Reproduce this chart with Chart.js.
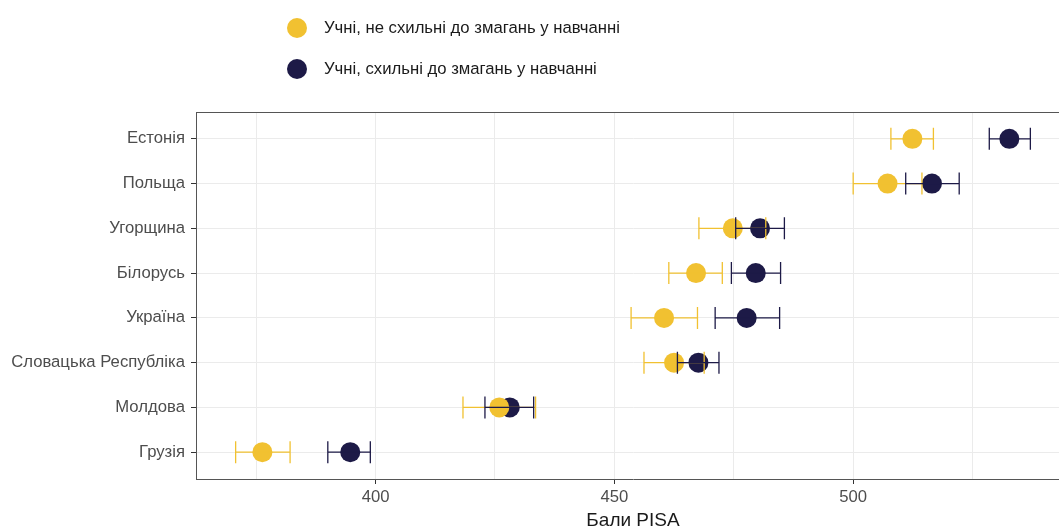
<!DOCTYPE html>
<html>
<head>
<meta charset="utf-8">
<script src="https://cdn.jsdelivr.net/npm/chart.js@4"></script>
<style>
  html, body { margin: 0; padding: 0; background: #fff; overflow: hidden; }
  #wrap { position: relative; width: 1059px; height: 527px; overflow: hidden; }
  #chart { display: block; width: 1070px; height: 527px; }
  .legend { position: absolute; left: 287px; top: 17px; font-family: "Liberation Sans", Arial, sans-serif; font-size: 16.7px; color: #1a1a1a; }
  .legend div { display: flex; align-items: center; height: 21px; margin-bottom: 20px; }
  .legend span.dot { display: inline-block; width: 20px; height: 20px; border-radius: 50%; margin-right: 17px; }
</style>
</head>
<body>
<div id="wrap">
  <canvas id="chart" width="1070" height="527"></canvas>
  <div class="legend" id="legend"></div>
</div>
<script>
// countries, top to bottom
const countries = ['Естонія', 'Польща', 'Угорщина', 'Білорусь', 'Україна', 'Словацька Республіка', 'Молдова', 'Грузія'];

// students not inclined to compete
const notCompMean = [512.4, 507.2, 474.8, 467.1, 460.4, 462.5, 425.9, 376.3];
const notCompLow  = [507.9, 500.0, 467.7, 461.4, 453.5, 456.2, 418.3, 370.7];
const notCompHigh = [516.8, 514.4, 481.7, 472.6, 467.4, 468.8, 433.5, 382.1];

// students inclined to compete
const compMean = [532.7, 516.5, 480.5, 479.6, 477.7, 467.6, 428.1, 394.7];
const compLow  = [528.5, 511.0, 475.4, 474.5, 471.1, 463.2, 422.9, 390.0];
const compHigh = [537.1, 522.2, 485.6, 484.8, 484.6, 471.9, 433.1, 398.9];

const xTicks = [375, 400, 425, 450, 475, 500, 525];
const xLabels = [400, 450, 500];

const yellow = '#F1C131';
const navy = '#1D1A47';

const seriesNames = ['Учні, не схильні до змагань у навчанні', 'Учні, схильні до змагань у навчанні'];

// html legend (stacked vertically)
const legendEl = document.getElementById('legend');
[yellow, navy].forEach((c, i) => {
    legendEl.innerHTML += `<div><span class="dot" style="background:${c}"></span>${seriesNames[i]}</div>`;
});

function toPoints(vals) {
    return vals.map((v, i) => ({ x: v, y: i + 1 }));
}

// error bars on top of the points
const errorBars = {
    id: 'errorBars',
    afterDatasetsDraw(chart) {
        const ctx = chart.ctx;
        const xs = chart.scales.x, ys = chart.scales.y;
        const sets = [[notCompLow, notCompHigh, yellow], [compLow, compHigh, navy]];
        ctx.save();
        sets.forEach(([lo, hi, col]) => {
            ctx.strokeStyle = col;
            ctx.lineWidth = 1.3;
            lo.forEach((l, i) => {
                const y = ys.getPixelForValue(i + 1);
                const x1 = xs.getPixelForValue(l), x2 = xs.getPixelForValue(hi[i]);
                ctx.beginPath();
                ctx.moveTo(x1, y); ctx.lineTo(x2, y);
                ctx.moveTo(x1, y - 11); ctx.lineTo(x1, y + 11);
                ctx.moveTo(x2, y - 11); ctx.lineTo(x2, y + 11);
                ctx.stroke();
            });
        });
        ctx.restore();
    }
};

// panel frame: top and right edge (the right one falls outside the window)
const frame = {
    id: 'frame',
    afterDraw(chart) {
        const { ctx, chartArea: a } = chart;
        ctx.save();
        ctx.strokeStyle = '#555';
        ctx.lineWidth = 1;
        ctx.beginPath();
        ctx.moveTo(a.left, a.top + 0.5); ctx.lineTo(a.right, a.top + 0.5);
        ctx.moveTo(a.right - 0.5, a.top); ctx.lineTo(a.right - 0.5, a.bottom);
        ctx.stroke();
        ctx.restore();
    }
};

new Chart(document.getElementById('chart').getContext('2d'), {
    type: 'scatter',
    data: {
        datasets: [
            { label: seriesNames[0], data: toPoints(notCompMean), backgroundColor: yellow, borderWidth: 0, pointRadius: 10, pointHoverRadius: 10 },
            { label: seriesNames[1], data: toPoints(compMean), backgroundColor: navy, borderWidth: 0, pointRadius: 10, pointHoverRadius: 10 }
        ]
    },
    options: {
        responsive: false,
        animation: false,
        layout: { autoPadding: false, padding: { top: 112, left: 0, right: 0, bottom: 0 } },
        plugins: { legend: { display: false }, tooltip: { enabled: false } },
        scales: {
            x: {
                type: 'linear',
                min: 362.4,
                max: 545.4,
                afterBuildTicks: (s) => { s.ticks = xTicks.map(v => ({ value: v })); },
                afterFit: (s) => { s.height = 48; },
                ticks: {
                    color: '#4d4d4d',
                    font: { family: '"Liberation Sans", Arial, sans-serif', size: 16.7 },
                    padding: 3,
                    maxRotation: 0,
                    callback: (v) => xLabels.includes(v) ? String(v) : ''
                },
                grid: {
                    color: '#ebebeb',
                    lineWidth: 1,
                    tickLength: 5,
                    tickColor: (c) => (c.tick && xLabels.includes(c.tick.value)) ? '#333' : 'rgba(0,0,0,0)'
                },
                border: { color: '#555', width: 1 },
                title: {
                    display: true,
                    text: 'Бали PISA',
                    color: '#1a1a1a',
                    font: { family: '"Liberation Sans", Arial, sans-serif', size: 19 },
                    padding: { top: 0, bottom: -5 }
                }
            },
            y: {
                type: 'linear',
                reverse: true,
                min: 0.4,
                max: 8.6,
                afterBuildTicks: (s) => { s.ticks = countries.map((c, i) => ({ value: i + 1 })); },
                afterFit: (s) => { s.width = 196; },
                ticks: {
                    color: '#4d4d4d',
                    font: { family: '"Liberation Sans", Arial, sans-serif', size: 16.7 },
                    padding: 6,
                    callback: (v) => countries[v - 1]
                },
                grid: { color: '#ebebeb', lineWidth: 1, tickLength: 5, tickColor: '#333' },
                border: { color: '#555', width: 1 }
            }
        }
    },
    plugins: [errorBars, frame]
});
</script>
</body>
</html>
